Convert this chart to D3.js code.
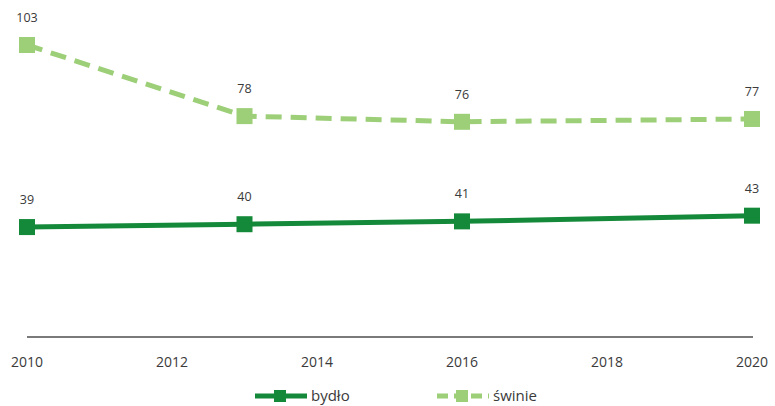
<!DOCTYPE html>
<html>
<head>
<meta charset="utf-8">
<script src="https://cdn.jsdelivr.net/npm/d3@7"></script>
<style>
body { margin: 0; background: #fff; }
text { font-family: "Open Sans", "Noto Sans", sans-serif; }
</style>
</head>
<body>
<svg id="chart" width="775" height="406"></svg>
<script>
const years = [2010, 2013, 2016, 2020];
const bydlo = [39, 40, 41, 43];
const swinie = [103, 78, 76, 77];
const tickYears = [2010, 2012, 2014, 2016, 2018, 2020];
const seriesNames = ["bydło", "świnie"];

const COLOR_DARK = "#14893a";
const COLOR_LIGHT = "#9ccf78";

const svg = d3.select("#chart");

let x = d3.scaleLinear()
    .domain([2010, 2020])
    .range([27, 752]);

let y = d3.scaleLinear()
    .domain([0, 103])
    .range([338, 45]);

// axis line
svg.append("line")
    .attr("x1", x(2010))
    .attr("x2", x(2020) + 1)
    .attr("y1", 337)
    .attr("y2", 337)
    .style("stroke", "#7a7a7a")
    .style("stroke-width", 2);

svg.selectAll("text.tick")
    .data(tickYears)
    .enter().append("text")
    .attr("class", "tick")
    .attr("x", d => x(d))
    .attr("y", 367)
    .attr("text-anchor", "middle")
    .style("font-size", "14px")
    .style("fill", "#3a3a3a")
    .text(d => d);

let line = d3.line()
    .x(d => x(d[0]))
    .y(d => y(d[1]));

let series = [
    { name: seriesNames[0], values: d3.zip(years, bydlo), color: COLOR_DARK, dash: null },
    { name: seriesNames[1], values: d3.zip(years, swinie), color: COLOR_LIGHT, dash: "16,9" }
];

series.forEach(s => {
    svg.append("path")
        .datum(s.values)
        .attr("d", line)
        .style("fill", "none")
        .style("stroke", s.color)
        .style("stroke-width", 5)
        .style("stroke-dasharray", s.dash);

    svg.selectAll(null)
        .data(s.values)
        .enter().append("rect")
        .attr("x", d => x(d[0]) - 8)
        .attr("y", d => y(d[1]) - 8)
        .attr("width", 16)
        .attr("height", 16)
        .style("fill", s.color);

    svg.selectAll(null)
        .data(s.values)
        .enter().append("text")
        .attr("x", d => x(d[0]))
        .attr("y", d => y(d[1]) - 23)
        .attr("text-anchor", "middle")
        .style("font-size", "12.5px")
        .style("fill", "#3a3a3a")
        .text(d => d[1]);
});

// legend
let legendX = [255, 437];
series.forEach((s, i) => {
    let g = svg.append("g").attr("transform", `translate(${legendX[i]}, 396)`);
    g.append("line")
        .attr("x1", 0).attr("x2", 52)
        .style("stroke", s.color)
        .style("stroke-width", 5)
        .style("stroke-dasharray", s.dash ? "11,6" : null);
    g.append("rect")
        .attr("x", 19).attr("y", -6)
        .attr("width", 12).attr("height", 12)
        .style("fill", s.color);
    g.append("text")
        .attr("x", 56)
        .attr("y", 5)
        .style("font-size", "15px")
        .style("fill", "#3a3a3a")
        .text(s.name);
});
</script>
</body>
</html>
